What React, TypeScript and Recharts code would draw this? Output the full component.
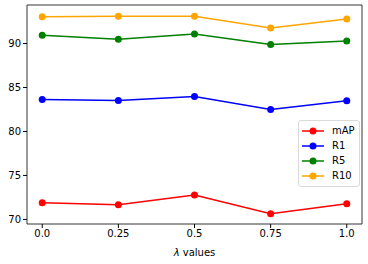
import React from 'react';
import { LineChart, Line, XAxis, YAxis, ReferenceLine } from 'recharts';

// lambda values on the x axis
const lambdas = [0, 0.25, 0.5, 0.75, 1.0];
const lambdaLabels = ['0.0', '0.25', '0.5', '0.75', '1.0'];

// metric values
const mAP = [71.9, 71.67, 72.77, 70.65, 71.78];
const r1 = [83.64, 83.52, 83.98, 82.5, 83.48];
const r5 = [90.93, 90.5, 91.08, 89.9, 90.28];
const r10 = [93.05, 93.1, 93.1, 91.76, 92.8];

const yTicks = [70, 75, 80, 85, 90];
const X_DOMAIN = [-0.05, 1.05];
const Y_DOMAIN = [69.48, 94.38];

const SERIES = [
  { key: 'mAP', color: '#ff0000' },
  { key: 'R1', color: '#0000ff' },
  { key: 'R5', color: '#008000' },
  { key: 'R10', color: '#ffa500' },
];

const data = lambdas.map((l, i) => ({
  lambda: l,
  mAP: mAP[i],
  R1: r1[i],
  R5: r5[i],
  R10: r10[i],
}));

const FONT = 'DejaVu Sans, sans-serif';

// x label with italic lambda, like matplotlib mathtext
const XLabel = (props: any) => {
  const vb = props.viewBox || { x: 0, y: 0, width: 0, height: 0 };
  return (
    <text
      x={vb.x + vb.width / 2}
      y={vb.y + vb.height - 8}
      textAnchor="middle"
      fill="#000"
      fontSize={10}
      fontFamily={FONT}
    >
      <tspan fontStyle="italic">λ</tspan>
      <tspan> values</tspan>
    </text>
  );
};

// matplotlib-like legend box, placed over the plot
const LegendBox = () => (
  <div
    style={{
      position: 'absolute',
      left: 298,
      top: 120,
      border: '1px solid #d9d9d9',
      borderRadius: 3,
      background: 'rgba(255,255,255,0.8)',
      padding: '2px 4px 3px 3px',
      fontFamily: FONT,
      fontSize: 10,
      color: '#000',
    }}
  >
    {SERIES.map((s) => (
      <div key={s.key} style={{ display: 'flex', alignItems: 'center', height: 15 }}>
        <svg width={22} height={10} style={{ marginRight: 8 }}>
          <line x1={0} y1={5} x2={22} y2={5} stroke={s.color} strokeWidth={1.5} />
          <circle cx={11} cy={5} r={3.5} fill={s.color} />
        </svg>
        <span>{s.key}</span>
      </div>
    ))}
  </div>
);

export default function App() {
  return (
    <div style={{ position: 'absolute', left: 0, top: 0, width: 368, height: 264, background: '#fff' }}>
      <LineChart width={368} height={264} data={data} margin={{ top: 5, right: 6, left: 0, bottom: 0 }}>
        <XAxis
          dataKey="lambda"
          type="number"
          domain={X_DOMAIN}
          ticks={lambdas}
          tickFormatter={(v: number) => lambdaLabels[lambdas.indexOf(v)]}
          height={40}
          tickSize={4}
          stroke="#000"
          tick={{ fill: '#000', fontSize: 10, fontFamily: FONT }}
          tickLine={{ stroke: '#000' }}
          axisLine={{ stroke: '#000', strokeWidth: 0.8 }}
          label={<XLabel />}
        />
        <YAxis
          type="number"
          domain={Y_DOMAIN}
          ticks={yTicks}
          width={27}
          tickSize={4}
          tick={{ fill: '#000', fontSize: 10, fontFamily: FONT }}
          tickLine={{ stroke: '#000' }}
          axisLine={{ stroke: '#000', strokeWidth: 0.8 }}
        />
        {/* top and right spines */}
        <ReferenceLine y={Y_DOMAIN[1]} stroke="#000" strokeWidth={0.8} />
        <ReferenceLine x={X_DOMAIN[1]} stroke="#000" strokeWidth={0.8} />
        {SERIES.map((s) => (
          <Line
            key={s.key}
            dataKey={s.key}
            stroke={s.color}
            strokeWidth={1.5}
            dot={{ r: 3.5, fill: s.color, stroke: s.color, strokeWidth: 0 }}
            activeDot={false}
            isAnimationActive={false}
          />
        ))}
      </LineChart>
      <LegendBox />
    </div>
  );
}
